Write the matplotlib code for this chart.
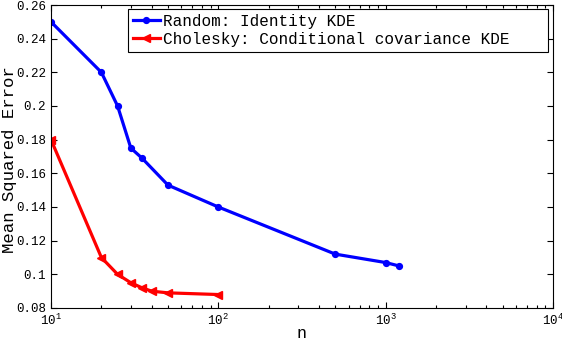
import matplotlib
matplotlib.use("Agg")
import matplotlib.pyplot as plt
from matplotlib.ticker import FuncFormatter, LogLocator, MultipleLocator

# data
n_random = [10, 20, 25, 30, 35, 50, 100, 500, 1000, 1200]
mse_random = [0.250, 0.220, 0.200, 0.175, 0.169, 0.153, 0.140, 0.112, 0.107, 0.105]

n_chol = [10, 20, 25, 30, 35, 40, 50, 100]
mse_chol = [0.180, 0.110, 0.100, 0.095, 0.092, 0.090, 0.089, 0.088]

label_random = "Random: Identity KDE"
label_chol = "Cholesky: Conditional covariance KDE"

plt.rcParams["font.family"] = ["Liberation Mono", "DejaVu Sans Mono"]
plt.rcParams["mathtext.fontset"] = "custom"
plt.rcParams["mathtext.rm"] = "Liberation Mono"
plt.rcParams["mathtext.it"] = "Liberation Mono"

fig = plt.figure(figsize=(5.62, 3.40), dpi=100)
ax = fig.add_axes([51 / 562, 32 / 340, 502 / 562, 303 / 340])

ax.plot(n_random, mse_random, color="#0000ff", lw=2.3, marker="o",
        ms=4.2, label=label_random)
ax.plot(n_chol, mse_chol, color="#ff0000", lw=2.3, marker="<",
        ms=6, label=label_chol)

ax.set_xscale("log")
ax.set_xlim(10, 1e4)
ax.set_ylim(0.08, 0.26)
ax.yaxis.set_major_locator(MultipleLocator(0.02))
ax.yaxis.set_major_formatter(FuncFormatter(lambda v, p: f"{v:g}"))
ax.xaxis.set_major_locator(LogLocator(base=10))
ax.xaxis.set_minor_locator(LogLocator(base=10, subs=range(2, 10)))

ax.tick_params(which="both", direction="in", top=True, right=True,
               labelsize=9, width=0.8)
ax.tick_params(which="major", length=4)
ax.tick_params(which="minor", length=2)
for s in ax.spines.values():
    s.set_linewidth(0.8)

ax.set_xlabel("n", fontsize=12)
ax.xaxis.set_label_coords(0.5, -0.06)
ax.set_ylabel("Mean Squared Error", fontsize=12.5)
ax.yaxis.set_label_coords(-0.067, 0.49)

leg = ax.legend(loc="upper left", bbox_to_anchor=(0.153, 0.845, 0.837, 0.142),
                mode="expand", fontsize=11.5, fancybox=False, framealpha=1,
                edgecolor="black", borderaxespad=0, handlelength=1.7,
                handletextpad=0.2, labelspacing=0.2, borderpad=0.3)
leg.get_frame().set_linewidth(0.8)

fig.savefig("out.png", dpi=100)
